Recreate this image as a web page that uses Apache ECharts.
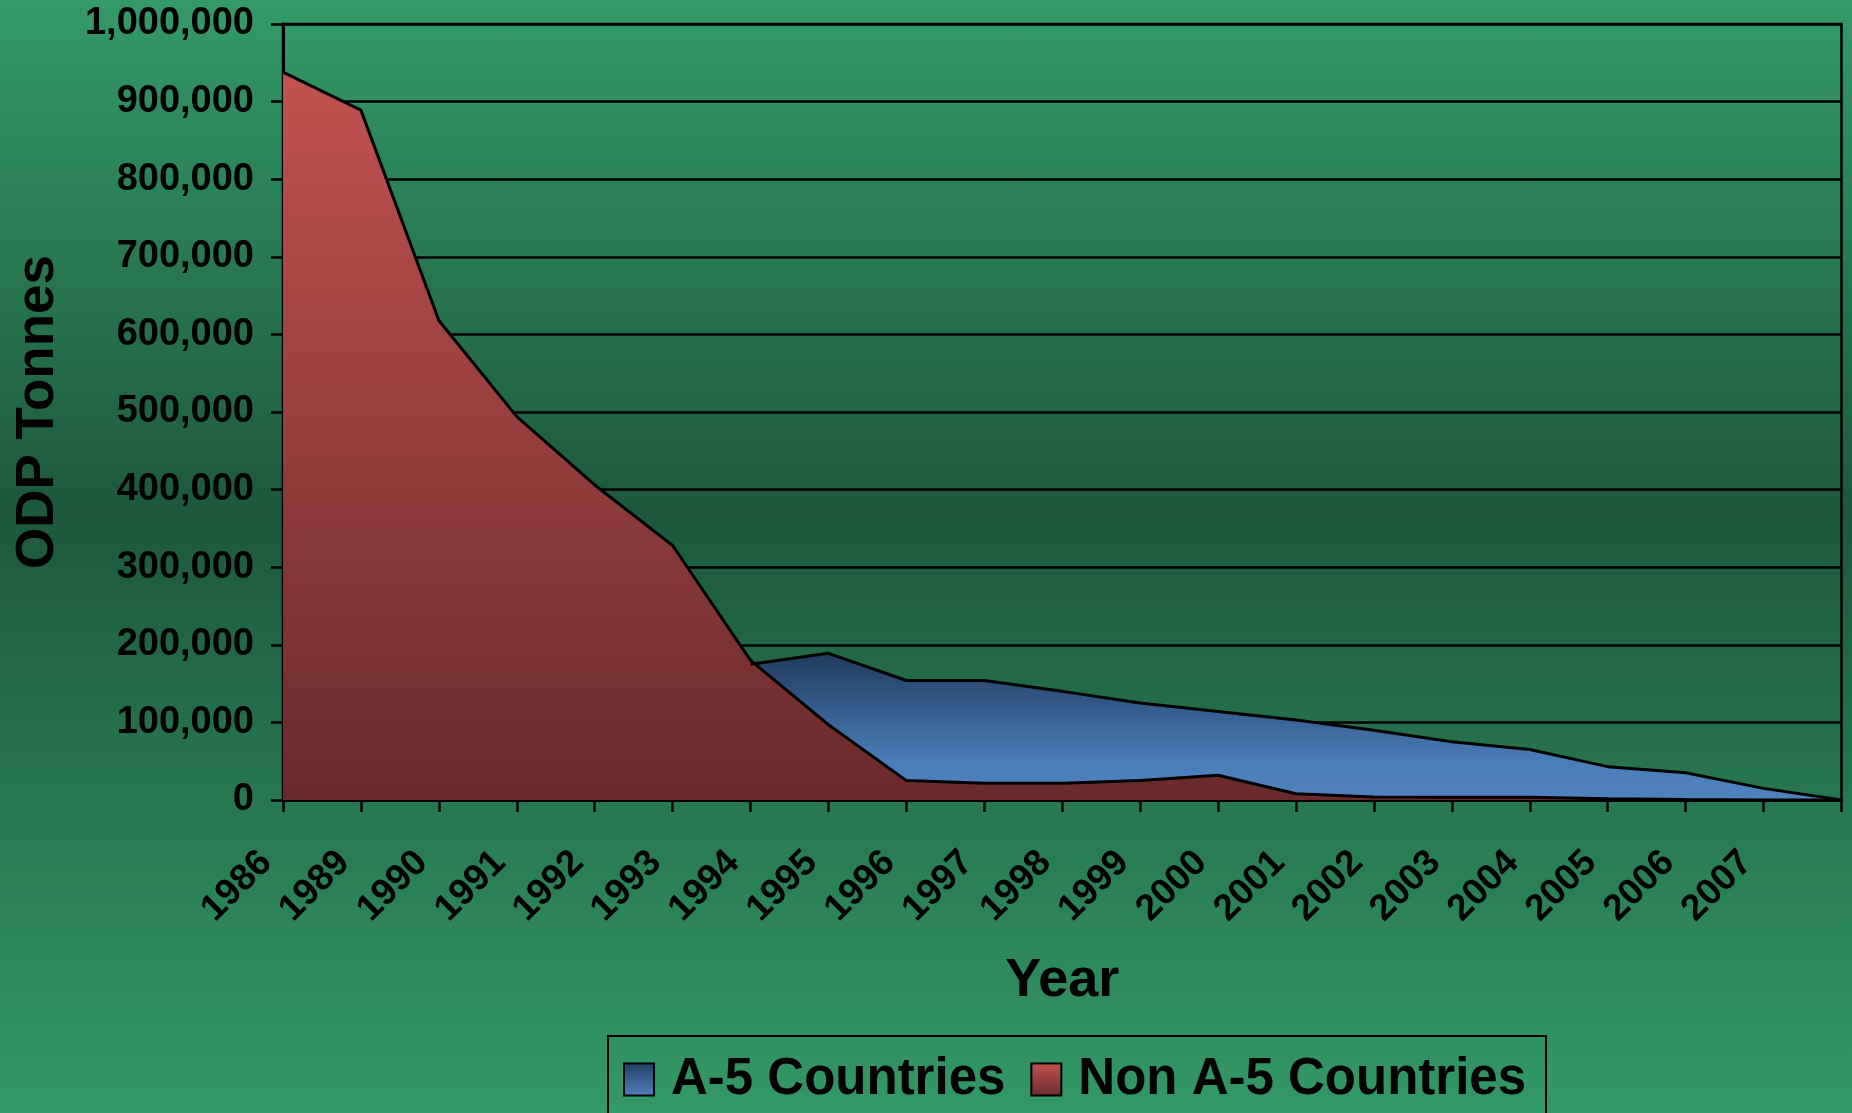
<!DOCTYPE html>
<html>
<head>
<meta charset="utf-8">
<script src="https://cdn.jsdelivr.net/npm/echarts@6/dist/echarts.min.js"></script>
<style>
  html, body { margin: 0; padding: 0; }
  body {
    width: 1852px; height: 1113px; overflow: hidden;
    background: linear-gradient(to bottom, #349a68 0%, #1d583c 46%, #339966 100%);
  }
  #chart { width: 1852px; height: 1113px; }
</style>
</head>
<body>
<div id="chart"></div>
<script>
// years on the category axis (last point has no label)
const years = ['1986', '1989', '1990', '1991', '1992', '1993', '1994', '1995', '1996', '1997',
  '1998', '1999', '2000', '2001', '2002', '2003', '2004', '2005', '2006', '2007', ''];
// ODP tonnes
const nonA5 = [938000, 889000, 618000, 494000, 406000, 328000, 180000, 97000, 25000, 21500,
  21500, 25000, 32000, 8000, 4000, 3500, 3500, 1500, 500, 0, 0];
const a5 = [null, null, null, null, null, null, 175000, 189000, 154000, 154000,
  140000, 125000, 114000, 103000, 90000, 75000, 65000, 43000, 35000, 15000, 0];
const seriesNames = ['A-5 Countries', 'Non A-5 Countries'];

const FONT = '"Liberation Sans", Arial, sans-serif';
const grad = (stops) => new echarts.graphic.LinearGradient(0, 0, 0, 1,
  stops.map((c) => ({ offset: c[0], color: c[1] })));

const blueFill = grad([[0, '#213a5c'], [0.75, '#4a7ebb'], [1, '#4f81bd']]);
const redFill = grad([[0, '#c2524f'], [1, '#692a2b']]);

const chart = echarts.init(document.getElementById('chart'), null, { renderer: 'canvas' });
chart.setOption({
  animation: false,
  backgroundColor: 'transparent',
  grid: {
    left: 283, right: 10.5, top: 24, bottom: 313,
    show: true, borderColor: '#000', borderWidth: 2.5,
    outerBoundsMode: 'none'
  },
  legend: {
    left: 608, top: 1036,
    padding: [18, 20, 40, 15],
    borderColor: '#000', borderWidth: 2,
    itemWidth: 30, itemHeight: 32, itemGap: 25,
    icon: 'rect',
    textStyle: { fontFamily: FONT, fontWeight: 'bold', fontSize: 51, color: '#000', padding: [0, 0, 0, 12] },
    data: [
      { name: seriesNames[0], itemStyle: { color: grad([[0, '#243e62'], [1, '#4f81bd']]), borderColor: '#000', borderWidth: 2 } },
      { name: seriesNames[1], itemStyle: { color: grad([[0, '#c2524f'], [1, '#6b2b2d']]), borderColor: '#000', borderWidth: 2 } }
    ]
  },
  xAxis: {
    type: 'category',
    data: years,
    boundaryGap: false,
    name: 'Year',
    nameLocation: 'middle',
    nameGap: 154,
    nameMoveOverlap: false,
    nameTextStyle: { fontFamily: FONT, fontWeight: 'bold', fontSize: 54, color: '#000' },
    axisLine: { lineStyle: { color: '#000', width: 3 } },
    axisTick: { show: true, length: 12, interval: 0, lineStyle: { color: '#000', width: 2.5 } },
    axisLabel: {
      interval: 0, rotate: 45, margin: 40, padding: [0, 24, 0, 0],
      fontFamily: FONT, fontWeight: 'bold', fontSize: 37, color: '#000', hideOverlap: false
    },
    splitLine: { show: false }
  },
  yAxis: {
    type: 'value',
    min: 0, max: 1000000, interval: 100000,
    name: 'ODP Tonnes',
    nameLocation: 'middle',
    nameGap: 218,
    nameMoveOverlap: false,
    nameTextStyle: { fontFamily: FONT, fontWeight: 'bold', fontSize: 53, color: '#000' },
    axisLine: { show: true, lineStyle: { color: '#000', width: 3 } },
    axisTick: { show: true, length: 12, lineStyle: { color: '#000', width: 2.5 } },
    axisLabel: {
      margin: 29, fontFamily: FONT, fontWeight: 'bold', fontSize: 38, color: '#000',
      formatter: (v) => v.toLocaleString('en-US')
    },
    splitLine: { show: true, lineStyle: { color: '#000', width: 2.5 } }
  },
  series: [
    {
      name: seriesNames[0], type: 'line', data: a5,
      symbol: 'none', color: '#4f81bd',
      lineStyle: { color: '#000', width: 3 },
      areaStyle: { color: blueFill, opacity: 1 }
    },
    {
      name: seriesNames[1], type: 'line', data: nonA5,
      symbol: 'none', color: '#c0504d',
      lineStyle: { color: '#000', width: 3 },
      areaStyle: { color: redFill, opacity: 1 }
    }
  ]
});
</script>
</body>
</html>
